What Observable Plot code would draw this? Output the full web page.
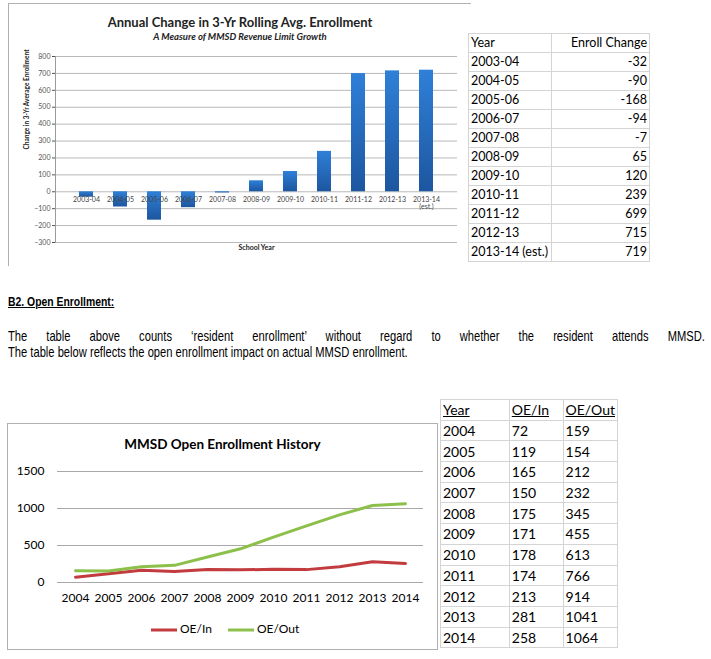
<!DOCTYPE html>
<html>
<head>
<meta charset="utf-8">
<script src="https://cdn.jsdelivr.net/npm/d3@7"></script>
<script src="https://cdn.jsdelivr.net/npm/@observablehq/plot@0.6"></script>
<style>
  html, body { margin: 0; padding: 0; background: #fff; }
  #page { position: relative; width: 711px; height: 659px; overflow: hidden; background: #fff; }
  .abs { position: absolute; }
  table.t1 { border-collapse: collapse; border: 1.5px solid #000; font-family: Lato, sans-serif; font-size: 12.5px; color: #000; }
  table.t1 td { border: 1px solid #d4d4d4; padding: 0 2px; height: 18px; line-height: 18px; }
  table.t2 { border-collapse: collapse; border: 1.5px solid #000; font-family: Lato, sans-serif; font-size: 14px; color: #000; }
  table.t2 td { border: 1px solid #d4d4d4; padding: 0 2px; height: 19.7px; line-height: 19px; }
  .narrow { font-family: "Liberation Sans", Arial, sans-serif; transform: scaleX(0.77); transform-origin: 0 0; white-space: nowrap; }
</style>
</head>
<body>
<div id="page"></div>
<script>
// ---- Data ----
const schoolYears = ["2003-04","2004-05","2005-06","2006-07","2007-08","2008-09","2009-10","2010-11","2011-12","2012-13","2013-14"];
const schoolYearLabels = ["2003-04","2004-05","2005-06","2006-07","2007-08","2008-09","2009-10","2010-11","2011-12","2012-13","2013-14\n(est.)"];
const tableYearLabels = ["2003-04","2004-05","2005-06","2006-07","2007-08","2008-09","2009-10","2010-11","2011-12","2012-13","2013-14 (est.)"];
const enrollChange = [-32, -90, -168, -94, -7, 65, 120, 239, 699, 715, 719];
const barTicks = [-300,-200,-100,0,100,200,300,400,500,600,700,800];

const oeYears = ["2004","2005","2006","2007","2008","2009","2010","2011","2012","2013","2014"];
const oeIn  = [72, 119, 165, 150, 175, 171, 178, 174, 213, 281, 258];
const oeOut = [159, 154, 212, 232, 345, 455, 613, 766, 914, 1041, 1064];
const lineTicks = [0, 500, 1000, 1500];

const page = document.getElementById("page");

function addDiv(html, style, cls) {
  const d = document.createElement("div");
  d.className = "abs" + (cls ? " " + cls : "");
  Object.assign(d.style, style);
  d.innerHTML = html;
  page.appendChild(d);
  return d;
}

// ---- Bar chart frame ----
addDiv("", {left: "8px", top: "3px", width: "462px", height: "262px", borderLeft: "1px solid #b0b0b0", borderTop: "1px solid #b0b0b0"});

const barData = schoolYears.map((y, i) => ({year: y, label: schoolYearLabels[i], value: enrollChange[i]}));

const bar = Plot.plot({
  width: 460,
  height: 265,
  marginLeft: 55,
  marginRight: 3,
  marginTop: 56,
  marginBottom: 23,
  style: {background: "transparent", overflow: "visible"},
  x: {type: "band", domain: schoolYears, padding: 0.6, axis: null},
  y: {domain: [-300, 800], axis: null},
  marks: [
    Plot.gridY(barTicks, {stroke: "#b8b8b8", strokeOpacity: 1, strokeWidth: 1}),
    Plot.frame({anchor: "left", stroke: "#9a9a9a"}),
    Plot.axisY(barTicks, {tickSize: 3, tickPadding: 2, fontSize: 7, color: "#555", label: null, fontFamily: "Lato, sans-serif"}),
    Plot.barY(barData, {x: "year", y: "value", fill: "url(#barGrad)"}),
    Plot.text(barData, {x: "year", y: 0, text: "label", fontSize: 7, fill: "#444", lineAnchor: "top", dy: 5, fontFamily: "Lato, sans-serif"}),
    Plot.text(["Change in 3-Yr Average Enrollment"], {frameAnchor: "left", dx: -29, rotate: -90, fontSize: 6.5, fontWeight: "bold", fill: "#222", fontFamily: "Lato, sans-serif"}),
    Plot.text(["School Year"], {frameAnchor: "bottom", dy: 7, fontSize: 7, fontWeight: "bold", fill: "#222", fontFamily: "Lato, sans-serif"})
  ]
});
// gradient for bars
const defs = d3.select(bar).insert("defs", ":first-child");
const grad = defs.append("linearGradient").attr("id", "barGrad").attr("x1", 0).attr("y1", 0).attr("x2", 0).attr("y2", 1);
grad.append("stop").attr("offset", "0%").attr("stop-color", "#2f80d8");
grad.append("stop").attr("offset", "100%").attr("stop-color", "#1d569f");
bar.style.position = "absolute";
bar.style.left = "0px";
bar.style.top = "0px";
page.appendChild(bar);

addDiv("Annual Change in 3-Yr Rolling Avg. Enrollment", {left: "0px", top: "14px", width: "480px", textAlign: "center", fontFamily: "Lato, sans-serif", fontWeight: "bold", fontSize: "13px", color: "#222"});
addDiv("<i>A Measure of MMSD Revenue Limit Growth</i>", {left: "0px", top: "31px", width: "480px", textAlign: "center", fontFamily: "Lato, sans-serif", fontWeight: "bold", fontSize: "9.5px", color: "#222"});

// ---- Table 1 ----
let t1 = '<table class="t1" style="width:182px"><tr><td style="width:78px">Year</td><td style="text-align:right">Enroll Change</td></tr>';
tableYearLabels.forEach((y, i) => { t1 += `<tr><td>${y}</td><td style="text-align:right">${enrollChange[i]}</td></tr>`; });
t1 += '</table>';
addDiv(t1, {left: "468px", top: "33px"});

// ---- Text ----
addDiv('<b><u>B2. Open Enrollment:</u></b>', {left: "8px", top: "294px", fontSize: "13.5px", color: "#000"}, "narrow");
addDiv('The table above counts ‘resident enrollment’ without regard to whether the resident attends MMSD.', {left: "8px", top: "328px", width: "905px", fontSize: "14.5px", textAlign: "justify", textAlignLast: "justify", whiteSpace: "normal", color: "#000"}, "narrow");
addDiv('The table below reflects the open enrollment impact on actual MMSD enrollment.', {left: "8px", top: "344px", fontSize: "14.5px", color: "#000"}, "narrow");

// ---- Line chart ----
addDiv("", {left: "7px", top: "423px", width: "429px", height: "225px", border: "1px solid #b0b0b0"});

const lineData = [];
oeYears.forEach((y, i) => { lineData.push({year: y, value: oeIn[i], series: "OE/In"}); });
oeYears.forEach((y, i) => { lineData.push({year: y, value: oeOut[i], series: "OE/Out"}); });

const line = Plot.plot({
  width: 440,
  height: 269,
  marginLeft: 57,
  marginRight: 17,
  marginTop: 81,
  marginBottom: 77,
  style: {background: "transparent", overflow: "visible"},
  x: {type: "point", domain: oeYears, padding: 0.5, axis: null},
  y: {domain: [0, 1500], axis: null},
  color: {domain: ["OE/In", "OE/Out"], range: ["#c23b3e", "#8cc04a"]},
  marks: [
    Plot.gridY(lineTicks, {stroke: "#a8a8a8", strokeOpacity: 1, strokeWidth: 1}),
    Plot.text(lineTicks, {y: d => d, frameAnchor: "left", dx: -13, textAnchor: "end", text: d => String(d), fontSize: 12, fill: "#000", fontFamily: "Lato, sans-serif"}),
    Plot.text(oeYears, {x: d => d, frameAnchor: "bottom", dy: 19, text: d => d, fontSize: 12, fill: "#000", fontFamily: "Lato, sans-serif"}),
    Plot.line(lineData, {x: "year", y: "value", z: "series", stroke: "series", strokeWidth: 3})
  ]
});
line.style.position = "absolute";
line.style.left = "0px";
line.style.top = "390px";
page.appendChild(line);

addDiv("MMSD Open Enrollment History", {left: "7px", top: "436px", width: "431px", textAlign: "center", fontFamily: "Lato, sans-serif", fontWeight: "bold", fontSize: "13.5px", color: "#000"});

// legend
addDiv(`<svg width="30" height="10" style="vertical-align:middle"><line x1="1" y1="5" x2="27" y2="5" stroke="#c23b3e" stroke-width="3"/></svg>OE/In
<span style="display:inline-block;width:12px"></span><svg width="30" height="10" style="vertical-align:middle"><line x1="1" y1="5" x2="27" y2="5" stroke="#8cc04a" stroke-width="3"/></svg>OE/Out`,
  {left: "150px", top: "621px", fontFamily: "Lato, sans-serif", fontSize: "12px", color: "#000", whiteSpace: "nowrap"});

// ---- Table 2 ----
let t2 = '<table class="t2" style="width:178px"><tr><td style="width:67px"><u>Year</u></td><td style="width:50px"><u>OE/In</u></td><td><u>OE/Out</u></td></tr>';
oeYears.forEach((y, i) => { t2 += `<tr><td>${y}</td><td>${oeIn[i]}</td><td>${oeOut[i]}</td></tr>`; });
t2 += '</table>';
addDiv(t2, {left: "440px", top: "399px"});
</script>
</body>
</html>
